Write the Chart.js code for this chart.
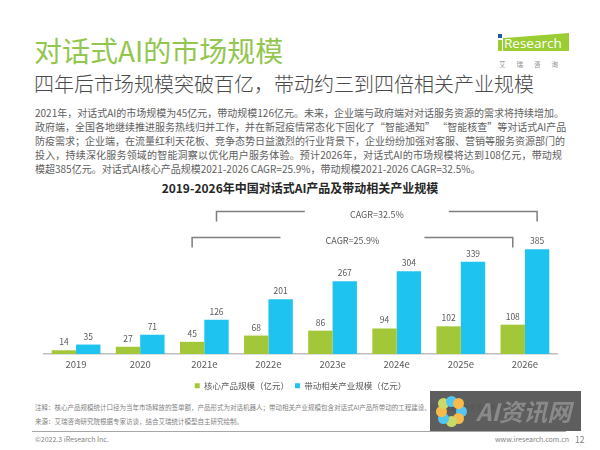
<!DOCTYPE html>
<html>
<head>
<meta charset="utf-8">
<script src="https://cdn.jsdelivr.net/npm/chart.js@4.4.1/dist/chart.umd.min.js"></script>
<style>
  body { margin: 0; background: #fff; }
  #page { position: relative; width: 600px; height: 450px; overflow: hidden; font-family: "Noto Sans CJK SC", "Noto Sans", sans-serif; color: #595959; }
  .abs { position: absolute; white-space: nowrap; }
  #title { left: 34px; top: 34px; font-size: 28px; line-height: 32px; color: #92c64e; }
  #subtitle { left: 34px; top: 73px; font-size: 20px; line-height: 22px; color: #4a4a4a; font-weight: 300; }
  #body { left: 35px; top: 106px; width: 527px; font-size: 10px; line-height: 14px; color: #606060; }
  #body div { text-align: justify; text-align-last: justify; white-space: nowrap; }
  #body div.last { text-align-last: left; }
  #ctitle { left: 0; width: 600px; top: 181px; text-align: center; font-size: 12px; line-height: 14px; font-weight: bold; color: #262626; }
  #chartBox { position: absolute; left: 0; top: 198px; width: 600px; height: 204px; }
  .note { left: 35px; font-size: 6.5px; line-height: 8px; color: #7f7f7f; }
  #rule { position: absolute; left: 32px; top: 431px; width: 534px; height: 1px; background: #a6a6a6; }
  .foot { top: 435px; font-size: 7px; line-height: 9px; color: #7f7f7f; }
  #logo { position: absolute; left: 497px; top: 32px; width: 72px; height: 40px; }
  #logoBar { position: absolute; left: 6px; top: 1px; width: 66px; height: 18px; background: #9acd32;
             clip-path: polygon(0 28%, 100% 0, 100% 100%, 0 100%); }
  #logoText { position: absolute; left: 7px; top: 3px; font-family: "Open Sans", sans-serif; font-size: 13.5px; line-height: 16px; color: #fff; }
  #logoDot { position: absolute; left: 1px; top: 2px; width: 4px; height: 4px; background: #1e5aa8; }
  #logoStem { position: absolute; left: 1px; top: 8px; width: 4px; height: 11px; background: #9acd32; }
  #logoCn { position: absolute; left: 2px; top: 27px; font-size: 6.5px; letter-spacing: 11px; color: #8c8c8c; white-space: nowrap; }
  #wm { position: absolute; left: 430px; top: 391px; width: 151px; height: 40px; background: rgba(80,80,80,0.92); }
  #wmText { position: absolute; left: 46px; top: 4px; font-size: 24px; line-height: 32px; font-weight: bold; font-style: italic; color: #8a8a8a; white-space: nowrap; }
  .petal { position: absolute; width: 11px; height: 11px; border-radius: 50%; }
</style>
</head>
<body>
<div id="page">
  <div id="title" class="abs">对话式AI的市场规模</div>
  <div id="subtitle" class="abs">四年后市场规模突破百亿，带动约三到四倍相关产业规模</div>
  <div id="logo">
    <div id="logoDot"></div><div id="logoStem"></div>
    <div id="logoBar"></div>
    <div id="logoText">Research</div>
    <div id="logoCn">艾瑞咨询</div>
  </div>
  <div id="body" class="abs">
    <div>2021年，对话式AI的市场规模为45亿元，带动规模126亿元。未来，企业端与政府端对对话服务资源的需求将持续增加。</div>
    <div>政府端，全国各地继续推进服务热线归并工作，并在新冠疫情常态化下固化了“智能通知” “智能核查”等对话式AI产品</div>
    <div>防疫需求；企业端，在流量红利天花板、竞争态势日益激烈的行业背景下，企业纷纷加强对客服、营销等服务资源部门的</div>
    <div>投入，持续深化服务领域的智能洞察以优化用户服务体验。预计2026年，对话式AI的市场规模将达到108亿元，带动规</div>
    <div class="last">模超385亿元。对话式AI核心产品规模2021-2026 CAGR=25.9%，带动规模2021-2026 CAGR=32.5%。</div>
  </div>
  <div id="ctitle" class="abs">2019-2026年中国对话式AI产品及带动相关产业规模</div>
  <div id="chartBox"><canvas id="chart"></canvas></div>
  <div class="abs note" style="top:403px">注释：核心产品规模统计口径为当年市场释放的签单额，产品形式为对话机器人；带动相关产业规模包含对话式AI产品所带动的工程建设、硬件设备及软件系统等相关产业规模。</div>
  <div class="abs note" style="top:417px">来源：艾瑞咨询研究院根据专家访谈，结合艾瑞统计模型自主研究绘制。</div>
  <div id="rule"></div>
  <div class="abs foot" style="left:35px">©2022.3 iResearch Inc.</div>
  <div class="abs foot" style="left:495px">www.iresearch.com.cn</div>
  <div class="abs foot" style="left:575px; font-size:8.5px">12</div>
  <div id="wm"><div id="wmText">AI资讯网</div></div>
</div>
<script>
// 数据
const years = ['2019', '2020', '2021e', '2022e', '2023e', '2024e', '2025e', '2026e'];
const coreScale = [14, 27, 45, 68, 86, 94, 102, 108];
const relatedScale = [35, 71, 126, 201, 267, 304, 339, 385];
const seriesNames = ['核心产品规模（亿元）', '带动相关产业规模（亿元）'];
const cagrLabels = ['CAGR=25.9%', 'CAGR=32.5%'];
const cagrLevels = [428, 525];   // 括号所在高度（按纵轴数值）
const cagrFrom = 2, cagrTo = 7;  // 2021e -> 2026e

const GREEN = '#a2c83a';
const BLUE = '#1fc3ef';

// 水印小花
const wm = document.getElementById('wm');
const petalColors = ['#52c5f0', '#f6bb4c', '#c9d96a', '#52c5f0', '#f6bb4c', '#c9d96a', '#52c5f0', '#f6bb4c'];
petalColors.forEach((c, i) => {
  const a = i * Math.PI / 4;
  const p = document.createElement('div');
  p.className = 'petal';
  p.style.background = c;
  p.style.left = (21 + 10 * Math.cos(a) - 5.5) + 'px';
  p.style.top = (20 + 10 * Math.sin(a) - 5.5) + 'px';
  wm.appendChild(p);
});

const valueLabels = {
  id: 'valueLabels',
  afterDatasetsDraw(chart) {
    const ctx = chart.ctx;
    ctx.save();
    ctx.font = '8.5px "Noto Sans CJK SC", sans-serif';
    ctx.fillStyle = '#595959';
    ctx.textAlign = 'center';
    ctx.textBaseline = 'bottom';
    chart.data.datasets.forEach((ds, i) => {
      chart.getDatasetMeta(i).data.forEach((bar, j) => {
        ctx.fillText(ds.data[j], bar.x, bar.y - 4);
      });
    });
    ctx.restore();
  }
};

const cagrBrackets = {
  id: 'cagrBrackets',
  afterDatasetsDraw(chart) {
    const ctx = chart.ctx;
    const yScale = chart.scales.y;
    ctx.save();
    ctx.strokeStyle = '#7f7f7f';
    ctx.lineWidth = 1.5;
    ctx.font = '9px "Noto Sans CJK SC", sans-serif';
    ctx.fillStyle = '#595959';
    ctx.textAlign = 'center';
    ctx.textBaseline = 'middle';
    cagrLabels.forEach((label, i) => {
      const bars = chart.getDatasetMeta(i).data;
      const x1 = bars[cagrFrom].x, x2 = bars[cagrTo].x;
      const y = Math.round(yScale.getPixelForValue(cagrLevels[i])) + 0.5;
      const mid = (x1 + x2) / 2, gap = 72;
      ctx.beginPath();
      ctx.moveTo(x1, y + 10); ctx.lineTo(x1, y); ctx.lineTo(mid - gap, y);
      ctx.moveTo(mid + gap, y); ctx.lineTo(x2, y); ctx.lineTo(x2, y + 10);
      ctx.stroke();
      ctx.fillText(label, mid, y + 3);
    });
    ctx.restore();
  }
};

new Chart(document.getElementById('chart'), {
  type: 'bar',
  data: {
    labels: years,
    datasets: [
      { label: seriesNames[0], data: coreScale, backgroundColor: GREEN },
      { label: seriesNames[1], data: relatedScale, backgroundColor: BLUE }
    ]
  },
  options: {
    responsive: true,
    maintainAspectRatio: false,
    animation: false,
    layout: { padding: { left: 44, right: 43, top: 13, bottom: 2 } },
    datasets: { bar: { categoryPercentage: 0.76, barPercentage: 1.0 } },
    scales: {
      x: {
        grid: { display: false, drawTicks: false },
        border: { display: true, color: '#bfbfbf', width: 1.5 },
        ticks: { padding: 5, color: '#595959', font: { size: 9.5, family: '"Noto Sans CJK SC", sans-serif' } }
      },
      y: { display: false, min: 0, max: 525 }
    },
    plugins: {
      legend: {
        position: 'bottom',
        labels: {
          boxWidth: 5, boxHeight: 5, padding: 6,
          color: '#595959',
          font: { size: 8.5, family: '"Noto Sans CJK SC", sans-serif' }
        }
      },
      tooltip: { enabled: false }
    }
  },
  plugins: [valueLabels, cagrBrackets]
});
</script>
</body>
</html>
